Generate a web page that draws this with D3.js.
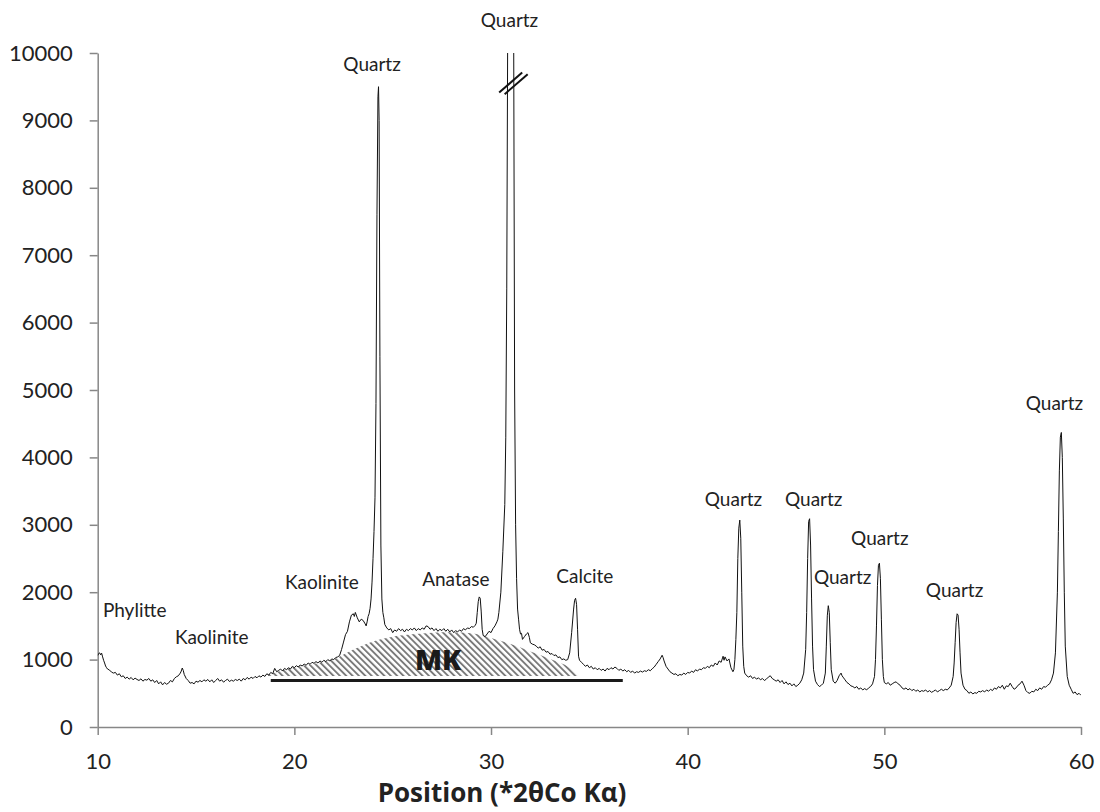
<!DOCTYPE html>
<html><head><meta charset="utf-8">
<script src="https://cdn.jsdelivr.net/npm/d3@7"></script>
<style>body{margin:0;background:#fff}svg{display:block}</style>
</head><body><svg id="c" width="1100" height="812"></svg>
<script>
// XRD pattern: [2θ (°), counts]
const pattern = [
[10.00,1060],[10.05,1090],[10.10,1100],[10.15,1070],[10.20,1095],[10.25,1040],[10.30,990],[10.35,950],[10.40,905],[10.45,880],
[10.50,860],[10.60,845],[10.70,815],[10.80,800],[10.90,810],[11.00,770],[11.10,790],[11.20,745],[11.30,760],[11.40,720],
[11.50,740],[11.60,710],[11.70,735],[11.80,700],[11.90,725],[12.00,705],[12.10,690],[12.20,715],[12.30,680],[12.40,705],
[12.50,695],[12.60,720],[12.70,680],[12.80,700],[12.90,660],[13.00,690],[13.10,640],[13.20,670],[13.30,625],[13.40,660],
[13.50,635],[13.60,650],[13.70,690],[13.80,670],[13.90,720],[14.00,745],[14.10,760],[14.20,800],[14.25,830],[14.30,875],
[14.35,840],[14.40,780],[14.50,720],[14.60,690],[14.70,650],[14.80,660],[14.90,640],[15.00,680],[15.10,665],[15.20,690],
[15.30,670],[15.40,700],[15.50,680],[15.60,705],[15.70,670],[15.80,700],[15.90,660],[16.00,690],[16.10,720],[16.20,680],
[16.30,700],[16.40,665],[16.50,690],[16.60,710],[16.70,675],[16.80,695],[16.90,680],[17.00,705],[17.10,690],[17.20,710],
[17.30,680],[17.40,720],[17.50,700],[17.60,735],[17.70,710],[17.80,740],[17.90,720],[18.00,750],[18.10,730],[18.20,760],
[18.30,740],[18.40,770],[18.50,750],[18.60,790],[18.70,770],[18.80,810],[18.90,790],[19.00,870],[19.10,820],[19.20,840],
[19.30,860],[19.40,830],[19.50,870],[19.60,850],[19.70,880],[19.80,860],[19.90,900],[20.00,880],[20.10,910],[20.20,890],
[20.30,920],[20.40,905],[20.50,935],[20.60,915],[20.70,950],[20.80,930],[20.90,960],[21.00,945],[21.10,970],[21.20,950],
[21.30,980],[21.40,960],[21.50,990],[21.60,970],[21.70,1000],[21.80,980],[21.90,1010],[22.00,1000],[22.10,1030],[22.20,1040],
[22.30,1060],[22.40,1150],[22.50,1260],[22.60,1370],[22.70,1420],[22.80,1560],[22.90,1660],[23.00,1680],[23.05,1640],[23.10,1700],
[23.20,1620],[23.30,1560],[23.40,1600],[23.50,1580],[23.60,1530],[23.65,1500],[23.70,1560],[23.75,1640],[23.80,1680],[23.85,1760],
[23.90,1900],[23.95,2150],[24.00,2500],[24.05,2900],[24.10,3400],[24.15,4800],[24.20,7600],[24.25,9350],[24.28,9500],[24.31,9000],
[24.35,5500],[24.40,2700],[24.45,1900],[24.50,1700],[24.55,1620],[24.60,1520],[24.70,1470],[24.80,1440],[24.90,1460],[25.00,1400],
[25.10,1440],[25.20,1420],[25.30,1460],[25.40,1430],[25.50,1450],[25.60,1410],[25.70,1450],[25.80,1430],[25.90,1460],[26.00,1440],
[26.10,1470],[26.20,1430],[26.30,1460],[26.40,1440],[26.50,1470],[26.60,1450],[26.70,1500],[26.80,1490],[26.90,1450],[27.00,1470],
[27.10,1430],[27.20,1460],[27.30,1420],[27.40,1450],[27.50,1430],[27.60,1460],[27.70,1420],[27.80,1450],[27.90,1410],[28.00,1440],
[28.10,1400],[28.20,1430],[28.30,1410],[28.40,1440],[28.50,1420],[28.60,1460],[28.70,1440],[28.80,1470],[28.90,1460],[29.00,1490],
[29.10,1480],[29.20,1510],[29.25,1540],[29.30,1700],[29.35,1860],[29.40,1930],[29.45,1910],[29.50,1720],[29.55,1450],[29.60,1360],
[29.70,1340],[29.80,1380],[29.90,1420],[30.00,1400],[30.10,1460],[30.20,1500],[30.30,1560],[30.35,1600],[30.40,1700],[30.50,2000],
[30.60,2600],[30.70,3300],[30.75,4300],[30.80,6500],[30.85,10500],[30.90,15000],[31.00,22000],[31.10,15000],[31.15,10500],[31.20,5000],
[31.25,3000],[31.30,2200],[31.35,1750],[31.40,1600],[31.45,1450],[31.50,1380],[31.55,1390],[31.60,1300],[31.70,1340],[31.80,1380],
[31.88,1400],[31.95,1330],[32.00,1250],[32.10,1230],[32.20,1220],[32.30,1200],[32.40,1170],[32.50,1190],[32.60,1140],[32.70,1150],
[32.80,1110],[32.90,1120],[33.00,1080],[33.10,1090],[33.20,1060],[33.30,1070],[33.40,1030],[33.50,1040],[33.60,1000],[33.70,1010],
[33.80,990],[33.90,1000],[34.00,1100],[34.10,1400],[34.20,1750],[34.25,1880],[34.30,1910],[34.35,1820],[34.40,1450],[34.45,1050],
[34.50,990],[34.60,960],[34.70,930],[34.80,900],[34.90,920],[35.00,880],[35.10,900],[35.20,860],[35.30,880],[35.40,850],
[35.50,870],[35.60,840],[35.70,860],[35.80,830],[35.90,870],[36.00,850],[36.10,880],[36.20,860],[36.30,890],[36.40,870],
[36.50,840],[36.60,860],[36.70,830],[36.80,850],[36.90,820],[37.00,840],[37.10,810],[37.20,830],[37.30,800],[37.40,820],
[37.50,810],[37.60,830],[37.70,815],[37.80,835],[37.90,825],[38.00,850],[38.10,835],[38.20,865],[38.30,890],[38.40,930],
[38.50,970],[38.60,1010],[38.70,1065],[38.75,1030],[38.80,980],[38.90,900],[39.00,860],[39.10,820],[39.20,800],[39.30,780],
[39.40,790],[39.50,760],[39.60,780],[39.70,770],[39.80,800],[39.90,780],[40.00,810],[40.10,800],[40.20,830],[40.30,810],
[40.40,850],[40.50,830],[40.60,860],[40.70,850],[40.80,880],[40.90,870],[41.00,900],[41.10,880],[41.20,920],[41.30,900],
[41.40,950],[41.50,920],[41.60,980],[41.70,960],[41.80,1050],[41.85,990],[41.90,1040],[42.00,980],[42.10,1010],[42.20,880],
[42.30,820],[42.35,850],[42.40,1000],[42.45,1300],[42.50,1700],[42.55,2500],[42.60,2950],[42.65,3070],[42.70,2800],[42.75,2000],
[42.80,1200],[42.85,900],[42.90,800],[43.00,760],[43.10,740],[43.20,760],[43.30,720],[43.40,740],[43.50,710],[43.60,730],
[43.70,700],[43.80,720],[43.90,690],[44.00,710],[44.10,740],[44.20,760],[44.30,720],[44.40,700],[44.50,680],[44.60,700],
[44.70,660],[44.80,690],[44.90,640],[45.00,670],[45.10,630],[45.20,650],[45.30,610],[45.40,640],[45.50,600],[45.60,620],
[45.70,650],[45.80,700],[45.90,800],[46.00,1150],[46.05,1700],[46.10,2500],[46.15,3050],[46.20,3090],[46.25,2700],[46.30,1900],
[46.35,1200],[46.40,850],[46.50,680],[46.60,630],[46.70,600],[46.80,620],[46.90,650],[47.00,800],[47.05,1200],[47.10,1650],
[47.15,1800],[47.20,1700],[47.25,1250],[47.30,850],[47.40,680],[47.50,650],[47.60,690],[47.70,760],[47.80,800],[47.85,760],
[47.90,740],[48.00,700],[48.10,660],[48.20,640],[48.30,610],[48.40,600],[48.50,580],[48.60,600],[48.70,560],[48.80,580],
[48.90,550],[49.00,570],[49.10,550],[49.20,580],[49.30,600],[49.40,640],[49.50,750],[49.55,1000],[49.60,1500],[49.65,2100],
[49.70,2400],[49.75,2430],[49.80,2200],[49.85,1600],[49.90,1000],[49.95,750],[50.00,660],[50.10,640],[50.20,660],[50.30,620],
[50.40,640],[50.50,660],[50.60,670],[50.70,640],[50.80,620],[50.90,580],[51.00,560],[51.10,580],[51.20,550],[51.30,570],
[51.40,540],[51.50,560],[51.60,530],[51.70,550],[51.80,520],[51.90,540],[52.00,530],[52.10,550],[52.20,520],[52.30,540],
[52.40,515],[52.50,530],[52.60,550],[52.70,520],[52.80,540],[52.90,560],[53.00,540],[53.10,560],[53.20,550],[53.30,580],
[53.40,620],[53.50,750],[53.55,950],[53.60,1250],[53.65,1550],[53.70,1680],[53.75,1660],[53.80,1450],[53.85,1100],[53.90,800],
[54.00,620],[54.10,560],[54.20,540],[54.30,500],[54.40,520],[54.50,490],[54.60,510],[54.70,500],[54.80,530],[54.90,520],
[55.00,540],[55.10,520],[55.20,550],[55.30,530],[55.40,560],[55.50,540],[55.60,580],[55.70,560],[55.80,600],[55.90,580],
[56.00,620],[56.10,560],[56.20,610],[56.30,600],[56.40,650],[56.50,600],[56.60,560],[56.70,580],[56.80,620],[56.90,640],
[57.00,680],[57.10,620],[57.20,540],[57.30,510],[57.40,500],[57.50,530],[57.60,520],[57.70,560],[57.80,540],[57.90,580],
[58.00,560],[58.10,600],[58.20,590],[58.30,620],[58.40,640],[58.50,700],[58.60,800],[58.70,1100],[58.80,2000],[58.85,2900],
[58.90,3800],[58.95,4300],[59.00,4370],[59.05,4000],[59.10,3100],[59.15,2000],[59.20,1200],[59.30,750],[59.40,620],[59.50,560],
[59.60,500],[59.70,520],[59.80,480],[59.90,500],[60.00,470]
];

const xTicks = [10, 20, 30, 40, 50, 60];
const yTicks = [0, 1000, 2000, 3000, 4000, 5000, 6000, 7000, 8000, 9000, 10000];

// phase annotations (data coordinates: 2θ centre, counts at baseline)
const labelText  = ["Phylitte","Kaolinite","Kaolinite","Quartz","Anatase","Quartz","Calcite","Quartz","Quartz","Quartz","Quartz","Quartz","Quartz"];
const labelAngle = [11.88, 15.80, 21.40, 23.95, 28.21, 30.94, 34.77, 42.33, 46.41, 47.88, 49.77, 53.57, 58.65];
const labelLevel = [1632, 1231, 2047, 9733, 2092, 10386, 2141, 3279, 3279, 2122, 2700, 1933, 4703];

// metakaolin amorphous hump
const mkAngle = [18.5, 19, 20, 21, 22, 23, 24, 25, 26, 27, 28, 29, 30, 31, 32, 33, 34, 34.45];
const mkTop   = [765, 810, 890, 940, 1010, 1150, 1270, 1340, 1375, 1400, 1405, 1390, 1320, 1230, 1120, 1010, 880, 775];
const mkBase = 757;
const mkBar = [18.8, 36.7];
const mkBarLevel = 690;
const mkLabelAngle = 27.31, mkLabelLevel = 846;

// axis break on truncated quartz peak
const breakAngle = 31.0, breakLevel = 9570;

const xTitle = "Position (*2θCo Kα)";

const FONT = "Lato, 'Open Sans', sans-serif";
const BOLD = "'Open Sans', Lato, sans-serif";
const svg = d3.select("#c");
const L = 97.7, R = 1081, T = 53, B = 727;
const x = d3.scaleLinear([10, 60], [L, R]);
const y = d3.scaleLinear([0, 10000], [B, T]);

const defs = svg.append("defs");
defs.append("clipPath").attr("id", "plot").append("rect")
  .attr("x", L).attr("y", T).attr("width", R - L).attr("height", B - T);
const pat = defs.append("pattern").attr("id", "hatch").attr("patternUnits", "userSpaceOnUse")
  .attr("width", 4.5).attr("height", 10).attr("patternTransform", "rotate(-45)");
pat.append("rect").attr("x", 0).attr("y", 0).attr("width", 1.9).attr("height", 10).attr("fill", "#7a7a7a");

// hatched MK area
const mkData = mkAngle.map((a, i) => [a, mkTop[i]]);
svg.append("path").datum(mkData)
  .attr("d", d3.area().x(d => x(d[0])).y0(y(mkBase)).y1(d => y(d[1])).curve(d3.curveMonotoneX))
  .attr("fill", "url(#hatch)");

// MK bar
svg.append("line").attr("x1", x(mkBar[0])).attr("x2", x(mkBar[1]))
  .attr("y1", y(mkBarLevel)).attr("y2", y(mkBarLevel))
  .attr("stroke", "#1a1a1a").attr("stroke-width", 3);

svg.append("text").attr("x", x(mkLabelAngle)).attr("y", y(mkLabelLevel))
  .attr("text-anchor", "middle").attr("font-family", BOLD).attr("font-weight", 800)
  .attr("font-size", 28).attr("fill", "#1a1a1a").text("MK");

// axes
const yAxis = svg.append("g").attr("transform", `translate(${L},0)`)
  .call(d3.axisLeft(y).tickValues(yTicks).tickSize(8).tickSizeOuter(0).tickPadding(17).tickFormat(d3.format("d")));
const xAxis = svg.append("g").attr("transform", `translate(0,${B})`)
  .call(d3.axisBottom(x).tickValues(xTicks).tickSize(8).tickSizeOuter(0).tickPadding(18).tickFormat(d3.format("d")));
[yAxis, xAxis].forEach(g => {
  g.select(".domain").attr("stroke", "#878787").attr("stroke-width", 1.5);
  g.selectAll(".tick line").attr("stroke", "#878787").attr("stroke-width", 1.5);
  g.selectAll(".tick text").attr("font-family", FONT).attr("font-size", 22).attr("fill", "#222");
});

// pattern line
svg.append("path").datum(pattern).attr("clip-path", "url(#plot)")
  .attr("d", d3.line().x(d => x(d[0])).y(d => y(d[1])))
  .attr("fill", "none").attr("stroke", "#111").attr("stroke-width", 1).attr("stroke-linejoin", "round");

// break marks
[0, 5.5].forEach(o => {
  svg.append("line")
    .attr("x1", x(breakAngle) - 11.5 + o).attr("y1", y(breakLevel) + 10.5 + o * 0.3)
    .attr("x2", x(breakAngle) + 11.5 + o).attr("y2", y(breakLevel) - 9.5 + o * 0.3)
    .attr("stroke", "#111").attr("stroke-width", 2);
});

// labels
svg.append("g").selectAll("text").data(labelText).join("text")
  .attr("x", (d, i) => x(labelAngle[i])).attr("y", (d, i) => y(labelLevel[i]))
  .attr("text-anchor", "middle").attr("font-family", FONT).attr("font-size", 19).attr("fill", "#222")
  .text(d => d);

svg.append("text").attr("x", 502).attr("y", 802).attr("text-anchor", "middle")
  .attr("font-family", BOLD).attr("font-weight", "bold").attr("font-size", 26).attr("fill", "#222")
  .text(xTitle);
</script></body></html>
